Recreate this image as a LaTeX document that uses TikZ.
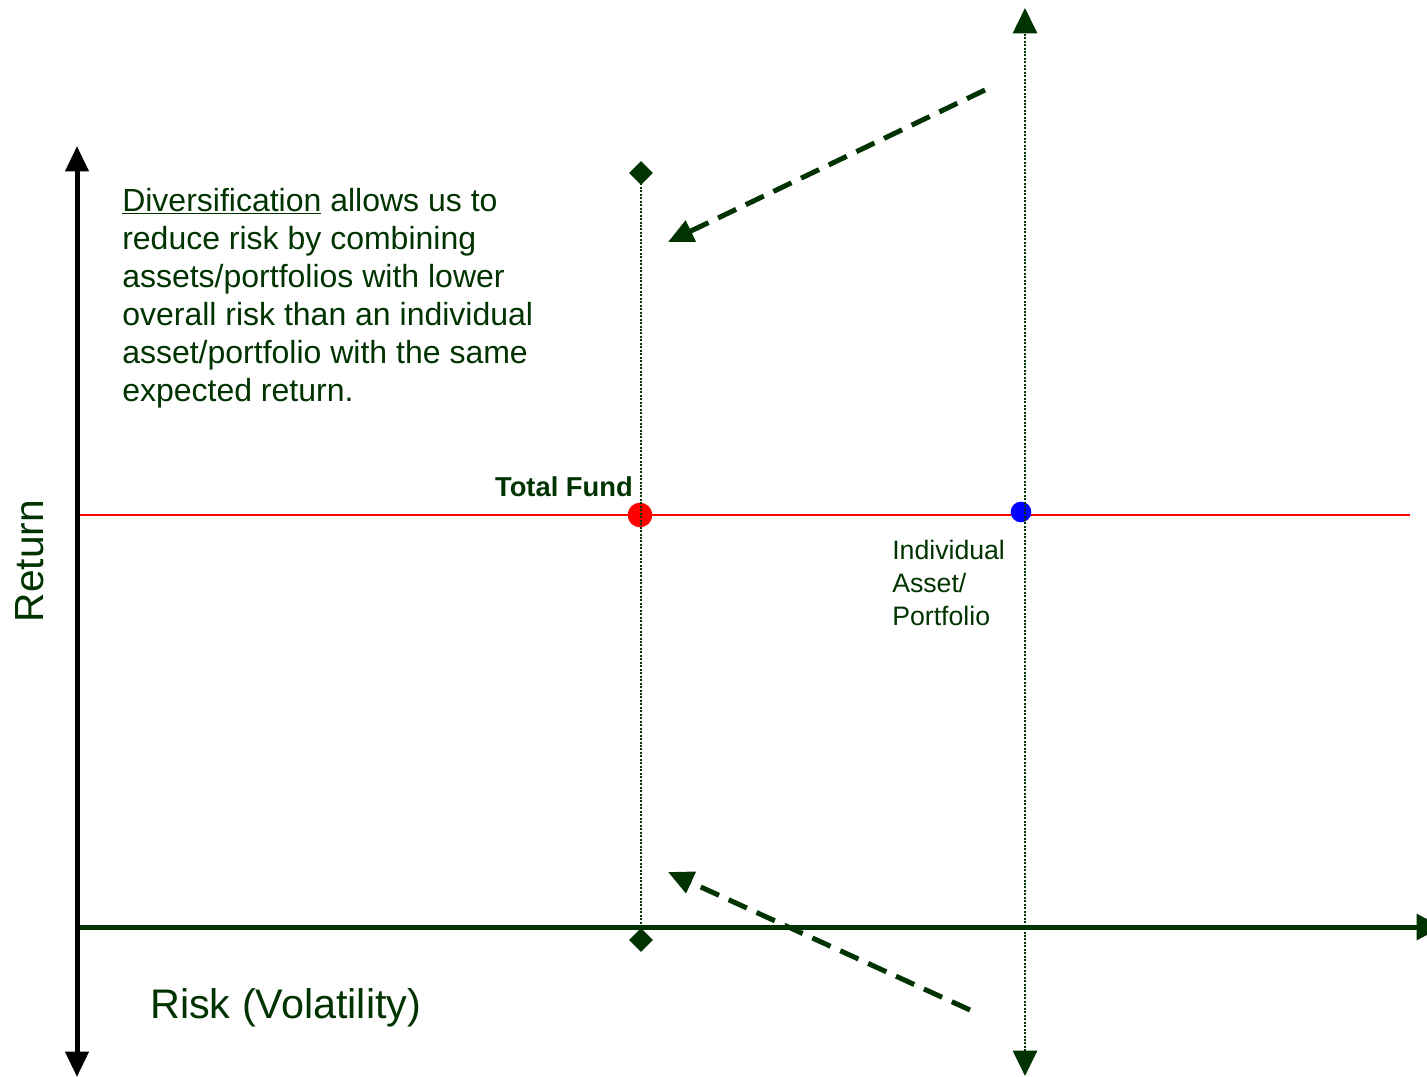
\documentclass[tikz,border=0pt]{standalone}
\usepackage{fontspec}
\setmainfont{Liberation Sans}
\usetikzlibrary{arrows.meta,shapes.geometric}
\definecolor{dkg}{RGB}{0,51,0}
\begin{document}
\begin{tikzpicture}[x=0.75pt,y=-0.75pt,
  blackaxis/.style={line width=3.75pt, black, {Triangle[length=19pt,width=17pt]}-{Triangle[length=19pt,width=17pt]}},
  greenaxis/.style={line width=3.75pt, dkg, -{Triangle[length=19pt,width=19pt]}},
  dotline/.style={dkg, line width=2.2pt, dash pattern=on 1.5pt off 1.1pt},
  dasharrow/.style={dkg, line width=3.75pt, dash pattern=on 15pt off 8pt, -{Triangle[length=19pt,width=17pt]}},
  marker/.style={diamond, fill=dkg, inner sep=0, minimum size=18pt},
  dot/.style={circle, inner sep=0, minimum size=#1},
  lbl/.style={text=dkg, inner sep=0}]
\clip (0,0) rectangle (1427,1077);
% reference line
\coordinate (rl) at (77,515);
\coordinate (rr) at (1410,515);
\draw[red, line width=1pt] (rl) -- (rr);
% points
\node[dot=18.5pt, fill=red] (tf) at (640,515) {};
\node[dot=15.5pt, fill=blue] (ia) at (1021,512) {};
% dotted lines
\node[marker] (dtop) at (641,173) {};
\node[marker] (dbot) at (641,940) {};
\draw[dotline] (dtop.center) -- (dbot.center);
\coordinate (vtop) at (1025,8);
\coordinate (vbot) at (1025,1076);
\draw[dotline, {Triangle[length=19pt,width=18pt]}-{Triangle[length=19pt,width=18pt]}] (vbot) -- (vtop);
% axes
\coordinate (O) at (77,927);
\coordinate (xend) at (1442,927);
\coordinate (ytop) at (77,146);
\coordinate (ybot) at (77,1077);
\draw[greenaxis] (O) -- (xend);
\draw[blackaxis] (ybot) -- (ytop);
% dashed arrows
\coordinate (a1s) at (985,90);
\coordinate (a1e) at (668,242);
\coordinate (a2s) at (970,1010);
\coordinate (a2e) at (668,872);
\draw[dasharrow] (a1s) -- (a1e);
\draw[dasharrow] (a2s) -- (a2e);
% texts
\node[lbl, anchor=base west, align=left, font=\fontsize{24}{28.5}\selectfont] (para) at (122,401)
  {\underline{Diversification} allows us to\\reduce risk by combining\\assets/portfolios with lower\\overall risk than an individual\\asset/portfolio with the same\\expected return.};
\node[lbl, anchor=base east, font=\fontsize{20.5}{24}\selectfont\bfseries] (tft) at (633,496) {Total Fund};
\node[lbl, anchor=base west, align=left, font=\fontsize{20}{24.4}\selectfont] (iat) at (892,625) {Individual\\Asset/\\Portfolio};
\node[lbl, rotate=90, font=\fontsize{30.5}{36}\selectfont] (ret) at (30,561) {Return};
\node[lbl, anchor=base west, font=\fontsize{31}{36}\selectfont] (risk) at (150,1018) {Risk (Volatility)};
\end{tikzpicture}
\end{document}
